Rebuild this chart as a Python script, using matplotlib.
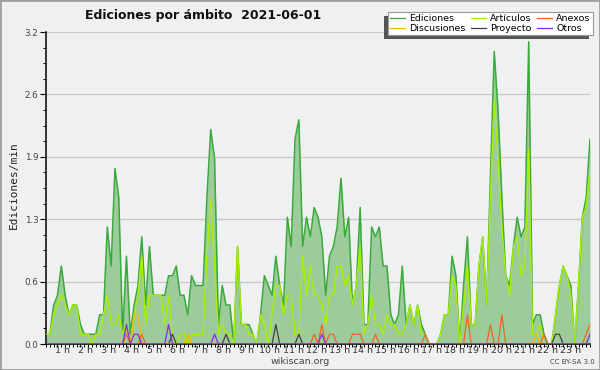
import numpy as np
import matplotlib
matplotlib.use("Agg")
import matplotlib.pyplot as plt
from matplotlib.lines import Line2D
from matplotlib.patches import Rectangle
from matplotlib.transforms import blended_transform_factory

# ---- data (edits per minute, 10-minute steps) ----
ediciones = [0.1, 0.1, 0.4, 0.5, 0.8, 0.5, 0.3, 0.4, 0.4, 0.2,
             0.1, 0.1, 0.1, 0.1, 0.3, 0.3, 1.2, 0.8, 1.8, 1.5,
             0.1, 0.9, 0.1, 0.4, 0.6, 1.1, 0.4, 1.0, 0.5, 0.5,
             0.5, 0.5, 0.7, 0.7, 0.8, 0.5, 0.5, 0.3, 0.7, 0.6,
             0.6, 0.6, 1.5, 2.2, 1.9, 0.2, 0.6, 0.4, 0.4, 0.0,
             1.0, 0.2, 0.2, 0.2, 0.1, 0.0, 0.3, 0.7, 0.6, 0.5,
             0.9, 0.6, 0.4, 1.3, 1.0, 2.1, 2.3, 1.0, 1.3, 1.1,
             1.4, 1.3, 1.1, 0.5, 0.9, 1.0, 1.2, 1.7, 1.1, 1.3,
             0.4, 0.6, 1.4, 0.2, 0.2, 1.2, 1.1, 1.2, 0.8, 0.8,
             0.3, 0.2, 0.3, 0.8, 0.2, 0.4, 0.2, 0.4, 0.2, 0.1,
             0.0, 0.0, 0.0, 0.1, 0.3, 0.3, 0.9, 0.7, 0.0, 0.6,
             1.1, 0.2, 0.2, 0.8, 1.1, 0.4, 1.7, 3.0, 2.4, 1.5,
             0.7, 0.6, 1.0, 1.3, 1.1, 1.2, 3.1, 0.2, 0.3, 0.3,
             0.1, 0.0, 0.0, 0.3, 0.6, 0.8, 0.7, 0.6, 0.0, 0.6,
             1.3, 1.5, 2.1]

articulos = [0.1, 0.1, 0.3, 0.4, 0.5, 0.4, 0.3, 0.4, 0.4, 0.1,
             0.1, 0.1, 0.0, 0.1, 0.1, 0.3, 0.5, 0.2, 0.2, 0.3,
             0.1, 0.2, 0.0, 0.3, 0.5, 0.9, 0.2, 0.5, 0.5, 0.5,
             0.5, 0.2, 0.5, 0.1, 0.0, 0.1, 0.1, 0.0, 0.1, 0.1,
             0.1, 0.1, 0.9, 1.5, 0.8, 0.1, 0.2, 0.1, 0.1, 0.0,
             1.0, 0.2, 0.2, 0.1, 0.1, 0.0, 0.3, 0.2, 0.0, 0.3,
             0.6, 0.6, 0.3, 0.5, 0.5, 0.1, 0.1, 0.9, 0.5, 0.8,
             0.5, 0.5, 0.4, 0.2, 0.5, 0.5, 0.8, 0.8, 0.6, 0.7,
             0.4, 0.6, 1.0, 0.1, 0.2, 0.5, 0.2, 0.2, 0.1, 0.3,
             0.2, 0.2, 0.1, 0.1, 0.2, 0.4, 0.2, 0.4, 0.1, 0.1,
             0.0, 0.0, 0.0, 0.1, 0.3, 0.3, 0.7, 0.6, 0.0, 0.4,
             0.8, 0.2, 0.2, 0.8, 1.1, 0.4, 1.5, 2.5, 1.9, 1.2,
             0.7, 0.5, 1.0, 1.1, 0.7, 0.8, 2.0, 0.1, 0.1, 0.2,
             0.0, 0.0, 0.0, 0.3, 0.6, 0.8, 0.7, 0.5, 0.0, 0.6,
             1.3, 1.4, 1.8]

# sparse series: (slot index, value); all other slots are zero
anexos_idx = [21, 25, 70, 72, 74, 75, 80, 81, 82, 86, 99, 110, 116, 119, 130, 141, 142]
anexos_val = [0.1, 0.1, 0.1, 0.2, 0.1, 0.1, 0.1, 0.1, 0.1, 0.1, 0.1, 0.3, 0.2, 0.3, 0.1, 0.1, 0.2]
discusiones_idx = [23, 24, 37, 128]
discusiones_val = [0.3, 0.3, 0.1, 0.1]
proyecto_idx = [33, 47, 60, 66, 133, 134]
proyecto_val = [0.1, 0.1, 0.2, 0.1, 0.1, 0.1]
otros_idx = [21, 23, 24, 32, 44, 72, 142]
otros_val = [0.2, 0.1, 0.1, 0.2, 0.1, 0.1, 0.1]

hours = list(range(1, 24))
hour_labels = [f"{h} h" for h in hours]
y_max = 3.2

title = "Ediciones por ámbito  2021-06-01"
ylabel = "Ediciones/min"
legend_names = ["Ediciones", "Discusiones", "Artículos", "Proyecto", "Anexos", "Otros"]

# ---- build ----
n = len(ediciones)
x = np.arange(n)

def sparse(idx, val):
    arr = np.zeros(n)
    arr[idx] = val
    return arr

anexos = sparse(anexos_idx, anexos_val)
discusiones = sparse(discusiones_idx, discusiones_val)
proyecto = sparse(proyecto_idx, proyecto_val)
otros = sparse(otros_idx, otros_val)

plt.rcParams['font.family'] = ['DejaVu Sans']

W, H = 600, 370
fig = plt.figure(figsize=(W / 100, H / 100), dpi=100)
fig.patch.set_facecolor('#f0f0f0')

ax = fig.add_axes([46 / W, 1 - 344 / H, 544 / W, 312 / H])
ax.set_facecolor('#eef0f2')

c_tot_fill = '#9ccb9c'
c_tot = '#3aaa3a'
c_art = '#aaee00'
c_anx = '#ee6622'
c_dis = '#ffb400'
c_pro = '#404040'
c_otr = '#8a2be2'

ax.fill_between(x, ediciones, 0, color=c_tot_fill, lw=0, zorder=1)
ax.plot(x, ediciones, color=c_tot, lw=1.1, zorder=2)
ax.plot(x, articulos, color=c_art, lw=1.0, zorder=3)
ax.plot(x, discusiones, color=c_dis, lw=0.9, zorder=4)
ax.plot(x, proyecto, color=c_pro, lw=0.9, zorder=4)
ax.plot(x, anexos, color=c_anx, lw=0.9, zorder=5)
ax.plot(x, otros, color=c_otr, lw=0.9, zorder=5)

ax.set_xlim(0, n - 1)
ax.set_ylim(0, y_max)

yt = np.linspace(0, y_max, 6)
ax.set_yticks(yt)
ax.set_yticklabels([f"{v:.1f}" for v in yt])
ax.set_yticks(np.linspace(0, y_max, 21), minor=True)
ax.yaxis.grid(True, which='major', color='#c8c8c8', lw=0.9)
ax.set_axisbelow(True)

ax.set_xticks([6.03 * h - 1.83 for h in hours])
ax.set_xticklabels(hour_labels)
ax.set_xticks(x, minor=True)

ax.tick_params(axis='y', which='major', length=4, width=0.8, pad=1.5,
               labelsize=6.3, labelcolor='#444444')
ax.tick_params(axis='y', which='minor', length=2, width=0.7)
ax.tick_params(axis='x', which='major', length=0, pad=1.5,
               labelsize=6.8, labelcolor='#333333')
ax.tick_params(axis='x', which='minor', length=2.2, width=0.7)

for s in ['top', 'right']:
    ax.spines[s].set_visible(False)
for s in ['left', 'bottom']:
    ax.spines[s].set_linewidth(1.1)
    ax.spines[s].set_color('black')

fig.text(14 / W, 1 - 185 / H, ylabel, rotation=90, family='DejaVu Sans Mono',
         fontsize=8, ha='center', va='center', color='#222222')
fig.text(85 / W, 1 - 16 / H, title, fontsize=9, fontweight='bold',
         ha='left', va='center', color='#111111')
fig.text(300 / W, 1 - 361 / H, 'wikiscan.org', fontsize=6.8, ha='center',
         va='center', color='#444444')
fig.text(572 / W, 1 - 362 / H, 'CC BY-SA 3.0', fontsize=5, ha='center',
         va='center', color='#444444')

leg_colors = [c_tot, c_dis, c_art, c_pro, c_anx, c_otr]
handles = [Line2D([0], [0], color=c, lw=0.9) for c in leg_colors]
leg = fig.legend(handles, legend_names, ncol=3, loc='upper right',
                 bbox_to_anchor=(593 / W, 1 - 12 / H), fontsize=6.8,
                 frameon=True, fancybox=False, facecolor='white',
                 edgecolor='#999999', framealpha=1, handlelength=1.6,
                 handletextpad=0.4, columnspacing=0.6, labelspacing=0.05,
                 borderpad=0.25, borderaxespad=0)
leg.get_frame().set_linewidth(0.8)
leg.set_zorder(10)

fig.canvas.draw()
bb = leg.get_window_extent()
sh = Rectangle((bb.x0 - 4, bb.y0 - 4), bb.width, bb.height,
               transform=None, facecolor='#555555', edgecolor='none', zorder=9)
fig.add_artist(sh)

fig.add_artist(Rectangle((0, 0), 1, 1, transform=fig.transFigure, fill=False,
                         edgecolor='#a0a0a0', lw=2, zorder=20))

fig.savefig('out.png', dpi=100, facecolor=fig.get_facecolor())
